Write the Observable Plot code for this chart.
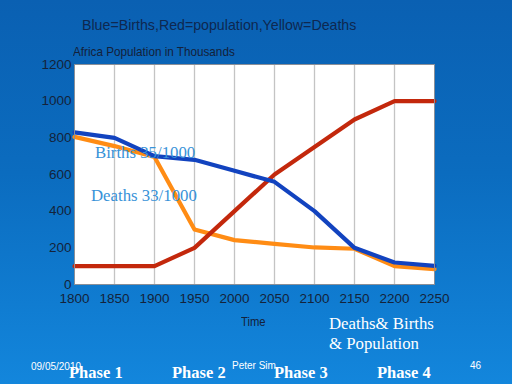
<!DOCTYPE html>
<html><head><meta charset="utf-8">
<script src="https://cdn.jsdelivr.net/npm/d3@7"></script>
<script src="https://cdn.jsdelivr.net/npm/@observablehq/plot@0.6"></script>
<style>
body{margin:0;}
#slide{position:relative;width:512px;height:384px;overflow:hidden;background:linear-gradient(#0a60b2 0%,#0b6cbf 45%,#1386dc 100%);font-family:Arial,"Liberation Sans",sans-serif;}
#slide svg{position:absolute;left:0;top:0;}
.t{position:absolute;white-space:nowrap;line-height:1;}
.serif{font-family:"Times New Roman","Liberation Serif",serif;}
</style></head>
<body><div id="slide"></div>
<script>
const years = [1800,1850,1900,1950,2000,2050,2100,2150,2200,2250];
const births = [830,800,700,680,620,560,400,200,120,102];
const population = [100,100,100,200,400,600,750,900,1000,1000];
const deaths = [805,755,695,300,242,222,202,195,100,84];
const yTicks = [0,200,400,600,800,1000,1200];

const rows = (vals, s) => years.map((y,i)=>({year:y, value:vals[i], series:s}));
const data = [...rows(deaths,"Deaths"), ...rows(population,"Population"), ...rows(births,"Births")];

const chart = Plot.plot({
  width:512, height:384,
  marginLeft:74, marginRight:78, marginTop:64, marginBottom:100,
  style:{background:"transparent", fontFamily:"Arial, 'Liberation Sans', sans-serif", fontSize:"13.5px", color:"#14233a"},
  x:{domain:[1800,2250], label:null},
  y:{domain:[0,1200], label:null},
  color:{domain:["Deaths","Population","Births"], range:["#ff8c14","#c3280c","#1243bf"]},
  marks:[
    Plot.frame({fill:"white", stroke:"#8a8f98"}),
    Plot.gridX(years.slice(1,-1), {stroke:"#c4c4c4", strokeOpacity:1, strokeWidth:1.3}),
    Plot.line(data, {x:"year", y:"value", z:"series", stroke:"series", strokeWidth:4.2}),
    Plot.frame({stroke:"#8a8f98"}),
    Plot.axisX({ticks:years, tickFormat:d=>String(d), tickSize:0, tickPadding:9, fill:"#14233a", label:null}),
    Plot.axisY({ticks:yTicks, tickFormat:d=>String(d), tickSize:0, tickPadding:3, fill:"#14233a", label:null})
  ]
});
const slide = document.getElementById("slide");
slide.appendChild(chart);

const texts = [
  ["Blue=Births,Red=population,Yellow=Deaths",82,18,"14.2px","#0e2850","",""],
  ["Africa Population in Thousands",73,45,"13px","#14213a","","transform:scaleX(0.9);transform-origin:left;"],
  ["Births 35/1000",95,145,"16.8px","#3892d8","serif",""],
  ["Deaths 33/1000",91,188,"16.8px","#3892d8","serif",""],
  ["Time",241,316,"12.5px","#14213a","","transform:scaleX(0.9);transform-origin:left;"],
  ["Deaths&amp; Births",329,316,"16.8px","#ffffff","serif",""],
  ["&amp; Population",329,336,"16.8px","#ffffff","serif",""],
  ["09/05/2010",31,362,"10px","#ffffff","",""],
  ["Peter Sim",232,361,"10px","#ffffff","",""],
  ["46",470,361,"10px","#ffffff","",""],
  ["Phase 1",69,365,"16.5px","#ffffff","serif","font-weight:bold;"],
  ["Phase 2",172,365,"16.5px","#ffffff","serif","font-weight:bold;"],
  ["Phase 3",274,365,"16.5px","#ffffff","serif","font-weight:bold;"],
  ["Phase 4",377,365,"16.5px","#ffffff","serif","font-weight:bold;"]
];
for (const [s,x,y,fs,c,cls,extra] of texts){
  const d=document.createElement("div");
  d.className="t "+cls;
  d.innerHTML=s;
  d.style.cssText+=`left:${x}px;top:${y}px;font-size:${fs};color:${c};`+extra;
  slide.appendChild(d);
}
</script></body></html>
